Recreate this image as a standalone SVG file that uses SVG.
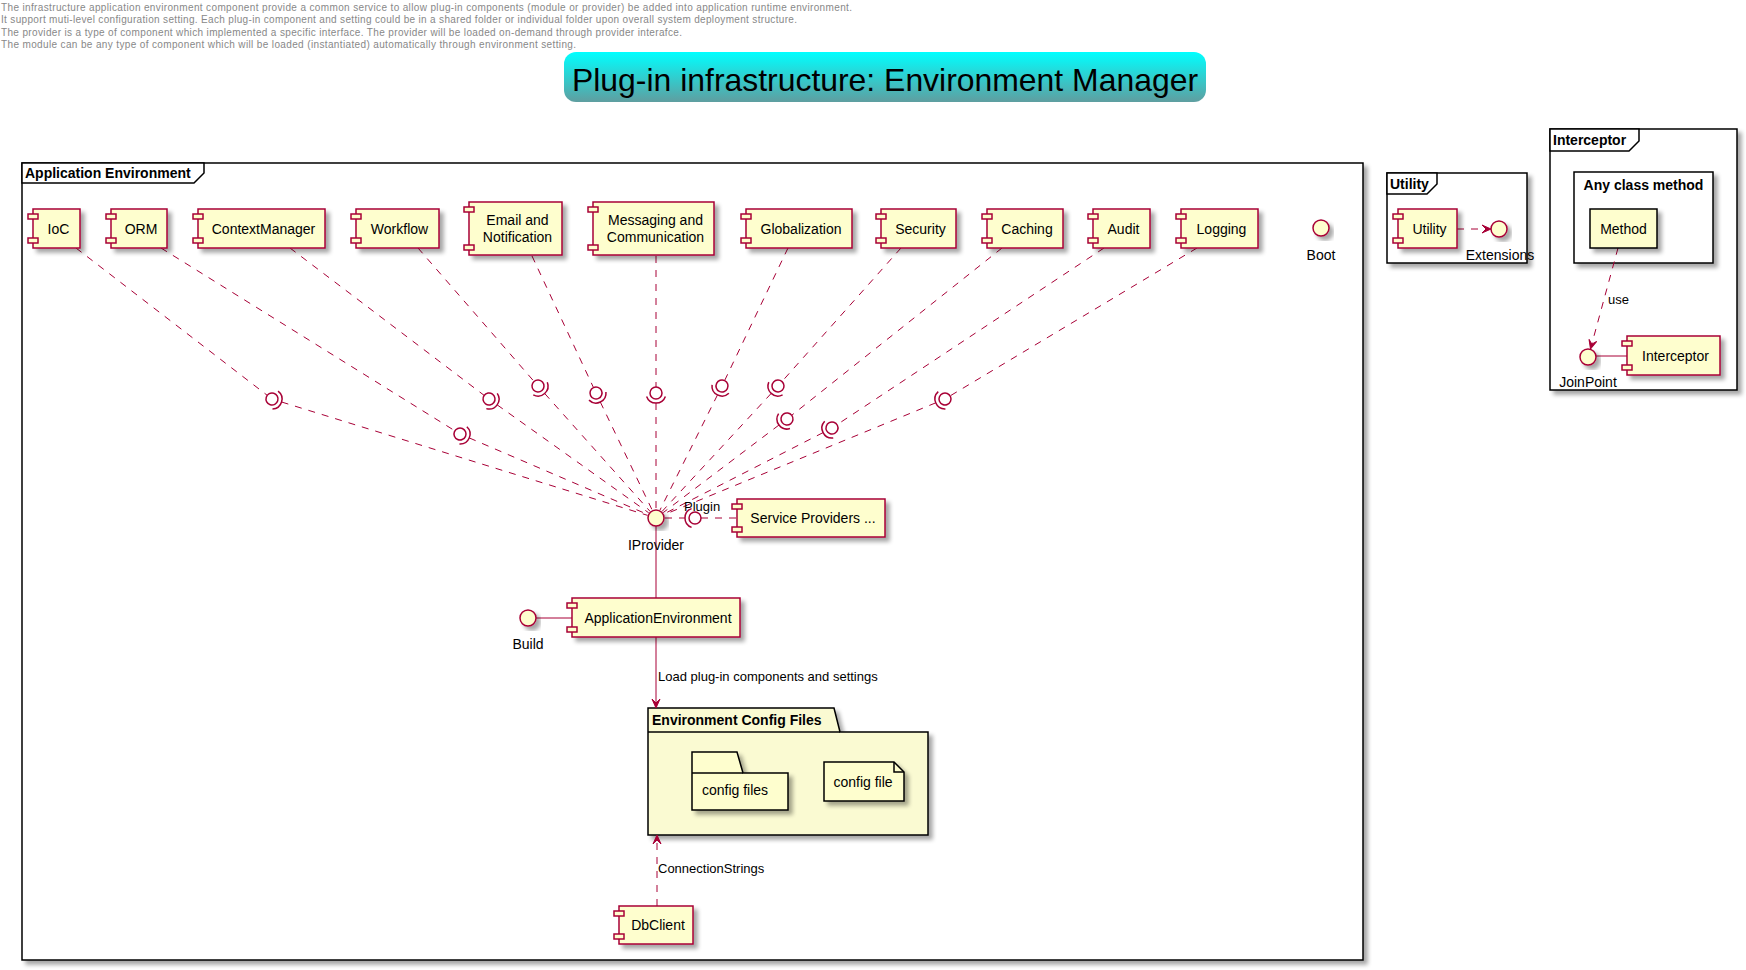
<svg xmlns="http://www.w3.org/2000/svg" xmlns:xlink="http://www.w3.org/1999/xlink" width="1746" height="970" viewBox="0 0 1746 970">
<style>
.c{fill:#FEFECE;stroke:#A80036;stroke-width:1.5}
.i{fill:#FEFECE;stroke:#A80036;stroke-width:1.5}
.t{font-family:"Liberation Sans",Arial,sans-serif;font-size:14px;fill:#000}
.m{text-anchor:middle}
.b{font-weight:bold}
.l{font-size:13px}
.fr{fill:#fff;stroke:#000;stroke-width:1.5}
.cn{stroke:#A80036;stroke-width:1;fill:none}
.d{stroke-dasharray:7,7}
.h{font-family:"Liberation Sans",Arial,sans-serif;font-size:10px;fill:#888}
.ah{fill:#A80036;stroke:#A80036;stroke-width:1}
</style>
<defs>
<filter id="sh" x="-20%" y="-20%" width="150%" height="150%">
<feGaussianBlur in="SourceAlpha" stdDeviation="2"/>
<feOffset dx="4" dy="4"/>
<feComponentTransfer><feFuncA type="linear" slope="0.35"/></feComponentTransfer>
<feMerge><feMergeNode/><feMergeNode in="SourceGraphic"/></feMerge>
</filter>
<linearGradient id="tg" x1="0" y1="0" x2="0" y2="1">
<stop offset="0" stop-color="#00FFFF"/>
<stop offset="1" stop-color="#5F9EA0"/>
</linearGradient>
<g id="sock">
<circle cx="0" cy="0" r="6" fill="#fff" stroke="#A80036" stroke-width="1.5"/>
<path d="M3.42,-9.4 A10,10 0 0,1 3.42,9.4" fill="none" stroke="#A80036" stroke-width="1.5"/>
</g>
<path id="arr" d="M0,0 L-9,-4 L-5,0 L-9,4 Z"/>
</defs>

<g id="header">
<text class="h" x="1" y="10.8" textLength="851" lengthAdjust="spacing">The infrastructure application environment component provide a common service to allow plug-in components (module or provider) be added into application runtime environment.</text>
<text class="h" x="1" y="23.3" textLength="796" lengthAdjust="spacing">It support muti-level configuration setting. Each plug-in component and setting could be in a shared folder or individual folder upon overall system deployment structure.</text>
<text class="h" x="1" y="35.8" textLength="681" lengthAdjust="spacing">The provider is a type of component which implemented a specific interface. The provider will be loaded on-demand through provider interafce.</text>
<text class="h" x="1" y="48.3" textLength="575" lengthAdjust="spacing">The module can be any type of component which will be loaded (instantiated) automatically through environment setting.</text>
</g>

<g id="title">
<rect x="564" y="52" width="642" height="50" rx="12" ry="12" fill="url(#tg)"/>
<text x="885" y="91" text-anchor="middle" font-family="Liberation Sans, Arial, sans-serif" font-size="32" textLength="626" lengthAdjust="spacingAndGlyphs">Plug-in infrastructure: Environment Manager</text>
</g>

<g id="frame-app">
<rect class="fr" x="22" y="163" width="1341" height="797" filter="url(#sh)"/>
<polygon points="22,163 204,163 204,173 194,183 22,183" fill="#fff" stroke="#000" stroke-width="1.5"/>
<text class="t b" x="25" y="178">Application Environment</text>
</g>

<g id="frame-utility">
<rect class="fr" x="1387" y="173" width="140" height="90" filter="url(#sh)"/>
<polygon points="1387,173 1437,173 1437,184 1427,194 1387,194" fill="#fff" stroke="#000" stroke-width="1.5"/>
<text class="t b" x="1390" y="189">Utility</text>
</g>

<g id="frame-interceptor">
<rect class="fr" x="1550" y="129" width="187" height="261" filter="url(#sh)"/>
<polygon points="1550,129 1639,129 1639,141 1629,151 1550,151" fill="#fff" stroke="#000" stroke-width="1.5"/>
<text class="t b" x="1553" y="145">Interceptor</text>
</g>

<g id="anyclass">
<rect class="fr" x="1574" y="172" width="139" height="91" filter="url(#sh)"/>
<text class="t b m" x="1643.5" y="190">Any class method</text>
</g>

<g id="pkg-config">
<polygon points="648,708 834,708 840,732 928,732 928,835 648,835" fill="#FAFAD2" stroke="#000" stroke-width="1.5" filter="url(#sh)"/>
<line x1="648" y1="732" x2="840" y2="732" stroke="#000" stroke-width="1.5"/>
<text class="t b" x="652" y="725">Environment Config Files</text>
</g>

<g id="connectors">
<polyline class="cn d" points="76,248 267.2,395.3"/><polyline class="cn d" points="281.6,402 647.4,515.3"/>
<use xlink:href="#sock" href="#sock" transform="translate(272,399) rotate(17.2)"/>
<polyline class="cn d" points="161,248 454.9,430.8"/><polyline class="cn d" points="469.2,437.9 647.7,514.5"/>
<use xlink:href="#sock" href="#sock" transform="translate(460,434) rotate(23.2)"/>
<polyline class="cn d" points="290,248 484.2,395.4"/><polyline class="cn d" points="497.1,404.8 648.7,512.8"/>
<use xlink:href="#sock" href="#sock" transform="translate(489,399) rotate(35.5)"/>
<polyline class="cn d" points="418,248 534.1,381.5"/><polyline class="cn d" points="544.7,393.5 650,511.3"/>
<use xlink:href="#sock" href="#sock" transform="translate(538,386) rotate(48.2)"/>
<polyline class="cn d" points="532,256 593.5,387.6"/><polyline class="cn d" points="600.3,402 652.1,509.9"/>
<use xlink:href="#sock" href="#sock" transform="translate(596,393) rotate(64.4)"/>
<polyline class="cn d" points="656,256 656,387"/><polyline class="cn d" points="656,403 656,509"/>
<use xlink:href="#sock" href="#sock" transform="translate(656,393) rotate(90)"/>
<polyline class="cn d" points="788,248 724.6,380.6"/><polyline class="cn d" points="717.5,394.9 660,510"/>
<use xlink:href="#sock" href="#sock" transform="translate(722,386) rotate(116.6)"/>
<polyline class="cn d" points="901,248 782,381.5"/><polyline class="cn d" points="771.2,393.4 662.1,511.4"/>
<use xlink:href="#sock" href="#sock" transform="translate(778,386) rotate(132.7)"/>
<polyline class="cn d" points="1002,248 791.7,415.3"/><polyline class="cn d" points="779,425 663.2,512.6"/>
<use xlink:href="#sock" href="#sock" transform="translate(787,419) rotate(142.9)"/>
<polyline class="cn d" points="1104,248 837,424.7"/><polyline class="cn d" points="823.1,432.6 664,513.9"/>
<use xlink:href="#sock" href="#sock" transform="translate(832,428) rotate(152.9)"/>
<polyline class="cn d" points="1197,248 950.1,395.9"/><polyline class="cn d" points="935.8,402.8 664.3,514.6"/>
<use xlink:href="#sock" href="#sock" transform="translate(945,399) rotate(157.6)"/>
<line class="cn d" x1="665" y1="518" x2="685" y2="518"/>
<line class="cn d" x1="701" y1="518" x2="737" y2="518"/>
<use xlink:href="#sock" href="#sock" transform="translate(695,518) rotate(180)"/>
<text class="t l" x="684" y="511">Plugin</text>
<line class="cn" x1="656" y1="526" x2="656" y2="598"/>
<line class="cn" x1="536" y1="618" x2="572" y2="618"/>
<line class="cn" x1="656" y1="637" x2="656" y2="706"/>
<use xlink:href="#arr" href="#arr" class="ah" transform="translate(656,708) rotate(90)"/>
<text class="t l" x="658" y="681">Load plug-in components and settings</text>
<line class="cn d" x1="657" y1="906" x2="657" y2="837"/>
<use xlink:href="#arr" href="#arr" class="ah" transform="translate(657,835) rotate(-90)"/>
<text class="t l" x="658" y="873">ConnectionStrings</text>
<line class="cn d" x1="1457" y1="229" x2="1489" y2="229"/>
<use xlink:href="#arr" href="#arr" class="ah" transform="translate(1491,229)"/>
<line class="cn d" x1="1618" y1="248" x2="1591" y2="347"/>
<use xlink:href="#arr" href="#arr" class="ah" transform="translate(1590.5,349) rotate(105.1)"/>
<text class="t l" x="1608" y="304">use</text>
<line class="cn" x1="1596" y1="356" x2="1627" y2="356"/>
</g>

<g id="IoC"><rect class="c" x="33" y="209" width="47" height="39" filter="url(#sh)"/><rect class="c" x="28" y="214" width="10" height="5"/><rect class="c" x="28" y="238" width="10" height="5"/><text class="t m" x="58.5" y="233.5">IoC</text></g>
<g id="ORM"><rect class="c" x="111" y="209" width="56" height="39" filter="url(#sh)"/><rect class="c" x="106" y="214" width="10" height="5"/><rect class="c" x="106" y="238" width="10" height="5"/><text class="t m" x="141" y="233.5">ORM</text></g>
<g id="ContextManager"><rect class="c" x="198" y="209" width="127" height="39" filter="url(#sh)"/><rect class="c" x="193" y="214" width="10" height="5"/><rect class="c" x="193" y="238" width="10" height="5"/><text class="t m" x="263.5" y="233.5">ContextManager</text></g>
<g id="Workflow"><rect class="c" x="356" y="209" width="83" height="39" filter="url(#sh)"/><rect class="c" x="351" y="214" width="10" height="5"/><rect class="c" x="351" y="238" width="10" height="5"/><text class="t m" x="399.5" y="233.5">Workflow</text></g>
<g id="Email"><rect class="c" x="469" y="202" width="93" height="53" filter="url(#sh)"/><rect class="c" x="464" y="207" width="10" height="5"/><rect class="c" x="464" y="245" width="10" height="5"/><text class="t m" x="517.5" y="225.3">Email and</text><text class="t m" x="517.5" y="241.8">Notification</text></g>
<g id="Messaging"><rect class="c" x="593" y="202" width="121" height="53" filter="url(#sh)"/><rect class="c" x="588" y="207" width="10" height="5"/><rect class="c" x="588" y="245" width="10" height="5"/><text class="t m" x="655.5" y="225.3">Messaging and</text><text class="t m" x="655.5" y="241.8">Communication</text></g>
<g id="Globalization"><rect class="c" x="746" y="209" width="106" height="39" filter="url(#sh)"/><rect class="c" x="741" y="214" width="10" height="5"/><rect class="c" x="741" y="238" width="10" height="5"/><text class="t m" x="801" y="233.5">Globalization</text></g>
<g id="Security"><rect class="c" x="881" y="209" width="75" height="39" filter="url(#sh)"/><rect class="c" x="876" y="214" width="10" height="5"/><rect class="c" x="876" y="238" width="10" height="5"/><text class="t m" x="920.5" y="233.5">Security</text></g>
<g id="Caching"><rect class="c" x="987" y="209" width="76" height="39" filter="url(#sh)"/><rect class="c" x="982" y="214" width="10" height="5"/><rect class="c" x="982" y="238" width="10" height="5"/><text class="t m" x="1027" y="233.5">Caching</text></g>
<g id="Audit"><rect class="c" x="1093" y="209" width="57" height="39" filter="url(#sh)"/><rect class="c" x="1088" y="214" width="10" height="5"/><rect class="c" x="1088" y="238" width="10" height="5"/><text class="t m" x="1123.5" y="233.5">Audit</text></g>
<g id="Logging"><rect class="c" x="1181" y="209" width="77" height="39" filter="url(#sh)"/><rect class="c" x="1176" y="214" width="10" height="5"/><rect class="c" x="1176" y="238" width="10" height="5"/><text class="t m" x="1221.5" y="233.5">Logging</text></g>

<g id="Boot"><circle class="i" cx="1321" cy="228" r="8" filter="url(#sh)"/><text class="t m" x="1321" y="260">Boot</text></g>
<g id="IProvider"><circle class="i" cx="656" cy="518" r="8" filter="url(#sh)"/><text class="t m" x="656" y="550">IProvider</text></g>
<g id="ServiceProviders"><rect class="c" x="737" y="499" width="148" height="38" filter="url(#sh)"/><rect class="c" x="732" y="504" width="10" height="5"/><rect class="c" x="732" y="527" width="10" height="5"/><text class="t m" x="813" y="523">Service Providers ...</text></g>
<g id="Build"><circle class="i" cx="528" cy="618" r="8" filter="url(#sh)"/><text class="t m" x="528" y="649">Build</text></g>
<g id="ApplicationEnvironment"><rect class="c" x="572" y="598" width="168" height="39" filter="url(#sh)"/><rect class="c" x="567" y="603" width="10" height="5"/><rect class="c" x="567" y="627" width="10" height="5"/><text class="t m" x="658" y="622.5">ApplicationEnvironment</text></g>

<g id="configfiles">
<polygon points="692,752 737,752 743,773 788,773 788,810 692,810" fill="#FEFECE" stroke="#000" stroke-width="1.5" filter="url(#sh)"/>
<line x1="692" y1="773" x2="743" y2="773" stroke="#000" stroke-width="1.5"/>
<text class="t m" x="735" y="795">config files</text>
</g>
<g id="configfile">
<polygon points="824,762 894,762 904,772 904,801 824,801" fill="#FEFECE" stroke="#000" stroke-width="1.5" filter="url(#sh)"/>
<polyline points="894,762 894,772 904,772" fill="none" stroke="#000" stroke-width="1.5"/>
<text class="t m" x="863" y="787">config file</text>
</g>

<g id="DbClient"><rect class="c" x="619" y="906" width="74" height="38" filter="url(#sh)"/><rect class="c" x="614" y="911" width="10" height="5"/><rect class="c" x="614" y="934" width="10" height="5"/><text class="t m" x="658" y="930">DbClient</text></g>

<g id="Utility"><rect class="c" x="1398" y="209" width="59" height="39" filter="url(#sh)"/><rect class="c" x="1393" y="214" width="10" height="5"/><rect class="c" x="1393" y="238" width="10" height="5"/><text class="t m" x="1429.5" y="233.5">Utility</text></g>
<g id="Extensions"><circle class="i" cx="1499" cy="229" r="8" filter="url(#sh)"/><text class="t m" x="1500" y="260">Extensions</text></g>

<g id="Method"><rect x="1590" y="209" width="67" height="39" fill="#FEFECE" stroke="#000" stroke-width="1.5" filter="url(#sh)"/><text class="t m" x="1623.5" y="233.5">Method</text></g>
<g id="JoinPoint"><circle class="i" cx="1588" cy="357" r="8" filter="url(#sh)"/><text class="t m" x="1588" y="387">JoinPoint</text></g>
<g id="Interceptor"><rect class="c" x="1627" y="336" width="93" height="39" filter="url(#sh)"/><rect class="c" x="1622" y="341" width="10" height="5"/><rect class="c" x="1622" y="365" width="10" height="5"/><text class="t m" x="1675.5" y="360.5">Interceptor</text></g>
</svg>
